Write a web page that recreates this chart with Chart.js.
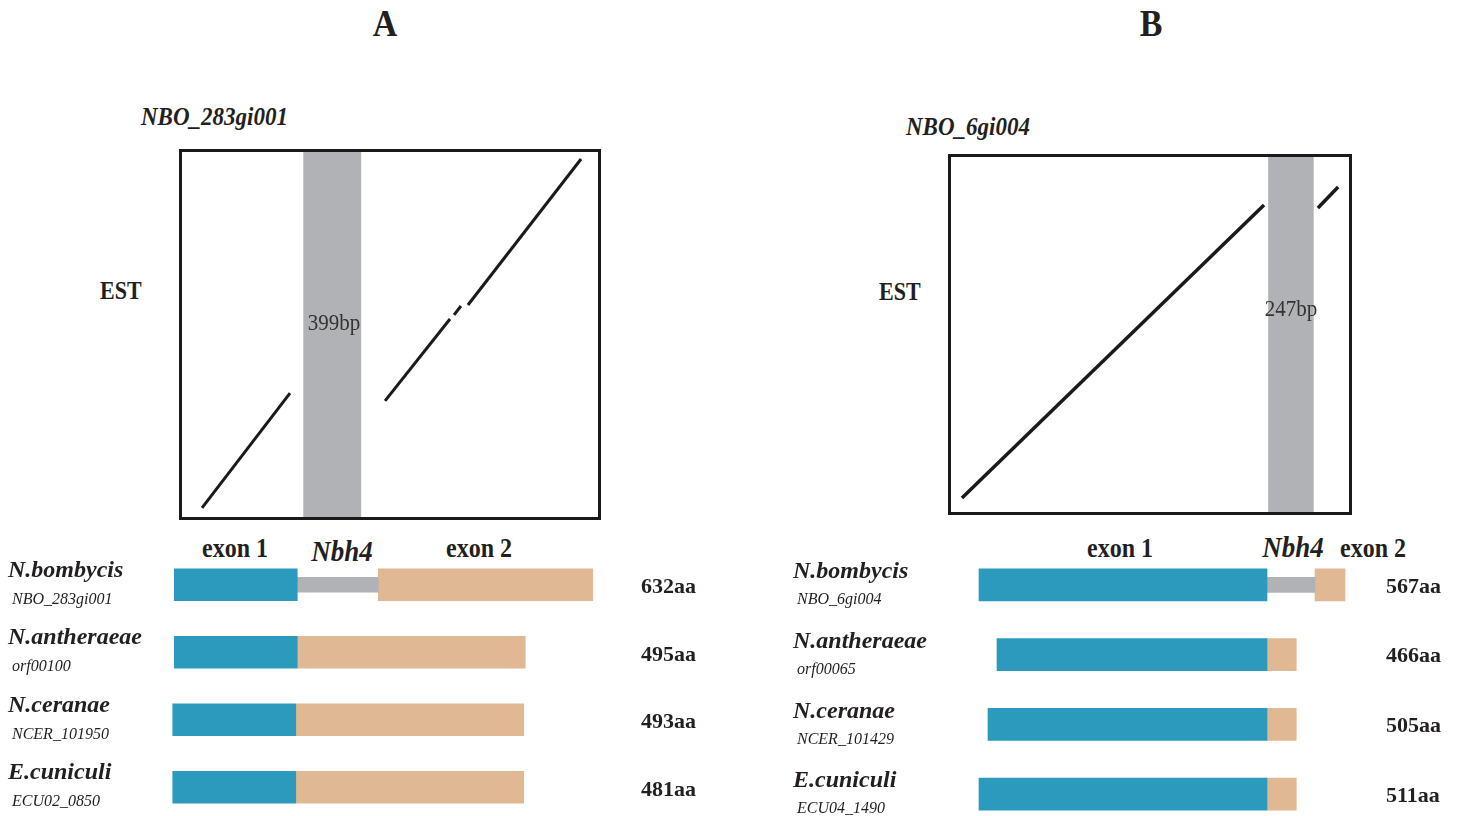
<!DOCTYPE html>
<html>
<head>
<meta charset="utf-8">
<script src="https://cdn.jsdelivr.net/npm/chart.js"></script>
<style>
  html, body { margin: 0; padding: 0; background: #fff; overflow: hidden; }
  body { width: 1460px; height: 816px; position: relative; font-family: "Liberation Serif", serif; color: #231f20; }
  .box { position: absolute; border: 3px solid #1a1a1a; box-sizing: border-box; }
  .wrap { position: absolute; }
  .t { position: absolute; white-space: nowrap; line-height: 1; }
  .c { transform: translate(-50%, -50%) scaleY(1.1); }
  .l { transform: translateY(-50%) scaleY(1.1); }
  .big { font-weight: bold; font-size: 34px; }
  .gene { font-weight: bold; font-style: italic; font-size: 23px; }
  .est { font-weight: bold; font-size: 22px; }
  .bp { font-size: 21px; color: #333; }
  .exon { font-weight: bold; font-size: 24px; }
  .nbh { font-weight: bold; font-style: italic; font-size: 27px; }
</style>
</head>
<body>
<div class="t c big" style="left:385px;top:24px">A</div>
<div class="t c big" style="left:1151px;top:24px">B</div>
<div class="t l gene" style="left:141px;top:117px">NBO_283gi001</div>
<div class="t l gene" style="left:906px;top:127px">NBO_6gi004</div>
<div class="t l est" style="left:100px;top:291px">EST</div>
<div class="t l est" style="left:879px;top:292px">EST</div>

<div class="box" style="left:179px;top:149px;width:422px;height:371px"><canvas id="dotA"></canvas></div>
<div class="box" style="left:948px;top:154px;width:404px;height:361px"><canvas id="dotB"></canvas></div>

<div class="t c bp" style="left:334px;top:323px">399bp</div>
<div class="t c bp" style="left:1291px;top:309px">247bp</div>

<div class="t c exon" style="left:235px;top:548px">exon 1</div>
<div class="t c nbh" style="left:342px;top:552px">Nbh4</div>
<div class="t c exon" style="left:479px;top:548px">exon 2</div>
<div class="t c exon" style="left:1120px;top:548px">exon 1</div>
<div class="t c nbh" style="left:1293px;top:548px">Nbh4</div>
<div class="t c exon" style="left:1373px;top:548px">exon 2</div>

<div class="wrap" style="left:0px;top:545px;width:720px;height:276px"><canvas id="geneA"></canvas></div>
<div class="wrap" style="left:740px;top:544px;width:720px;height:285px"><canvas id="geneB"></canvas></div>

<script>
"use strict";
// dot plots: genomic position (bp) vs EST position
var genomeLenA = 2850, estLenA = 2500;
var intronA = [830, 1229]; // 399bp
// [genome start, est start, genome end, est end]
var segmentsA = [
    [137, 62, 740, 849],
    [1391, 795, 1836, 1356],
    [1864, 1384, 1911, 1445],
    [1959, 1452, 2734, 2452]
];
var genomeLenB = 2150, estLenB = 2000;
var intronB = [1713, 1960]; // 247bp
var segmentsB = [
    [59, 79, 1691, 1730],
    [1982, 1713, 2091, 1831]
];

// gene structures (schematic aa positions)
var speciesA = ["N.bombycis", "N.antheraeae", "N.ceranae", "E.cuniculi"];
var idsA = ["NBO_283gi001", "orf00100", "NCER_101950", "ECU02_0850"];
var lengthsA = ["632aa", "495aa", "493aa", "481aa"];
var exon1A = [[19, 183], [19, 183], [17, 181], [17, 181]];
var nbh4A = [[183, 291], null, null, null];
var exon2A = [[291, 577], [183, 487], [181, 485], [181, 485]];

var speciesB = ["N.bombycis", "N.antheraeae", "N.ceranae", "E.cuniculi"];
var idsB = ["NBO_6gi004", "orf00065", "NCER_101429", "ECU04_1490"];
var lengthsB = ["567aa", "466aa", "505aa", "511aa"];
var exon1B = [[52, 436], [76, 436], [64, 436], [52, 436]];
var nbh4B = [[436, 500], null, null, null];
var exon2B = [[500, 540], [436, 475], [436, 475], [436, 475]];

var blue = "#2c9abd", tan = "#e0b893", grey = "#b1b2b6", ink = "#1a1a1a";

function dotPlot(id, segs, intron, gLen, eLen, lw) {
    var ds = [];
    for (var i = 0; i < segs.length; i++) {
        ds.push({
            data: [{x: segs[i][0], y: segs[i][1]}, {x: segs[i][2], y: segs[i][3]}],
            showLine: true, borderColor: ink, borderWidth: lw, pointRadius: 0
        });
    }
    // intron band, drawn last so it sits below the lines
    ds.push({
        data: [{x: intron[0], y: eLen}, {x: intron[1], y: eLen}],
        showLine: true, fill: "start", backgroundColor: grey, borderWidth: 0, pointRadius: 0
    });
    new Chart(document.getElementById(id), {
        type: "scatter",
        data: {datasets: ds},
        options: {
            responsive: true, maintainAspectRatio: false, animation: false,
            layout: {padding: 0},
            plugins: {legend: {display: false}, tooltip: {enabled: false}},
            scales: {
                x: {type: "linear", min: 0, max: gLen, display: false},
                y: {type: "linear", min: 0, max: eLen, display: false}
            }
        }
    });
}

function rowLabels(names, ids, lengths, nameX, idX, aaX, nameDy, idDy, aaDy) {
    return {
        id: "rowLabels",
        afterDatasetsDraw: function (chart) {
            var ctx = chart.ctx, y = chart.scales.y;
            ctx.save();
            ctx.fillStyle = "#231f20";
            ctx.textBaseline = "middle";
            ctx.textAlign = "left";
            for (var i = 0; i < names.length; i++) {
                var cy = y.getPixelForValue(i);
                ctx.font = 'bold italic 24px "Liberation Serif"';
                ctx.fillText(names[i], nameX, cy + nameDy);
                ctx.font = 'italic 16px "Liberation Serif"';
                ctx.fillText(ids[i], idX, cy + idDy);
                ctx.font = 'bold 22px "Liberation Serif"';
                ctx.fillText(lengths[i], aaX, cy + aaDy);
            }
            ctx.restore();
        }
    };
}

function geneChart(id, names, e1, intr, e2, padL, padR, labels) {
    new Chart(document.getElementById(id), {
        type: "bar",
        data: {
            labels: names,
            datasets: [
                {label: "exon 1", data: e1, backgroundColor: blue, barThickness: 32, grouped: false},
                {label: "Nbh4", data: intr, backgroundColor: grey, barThickness: 15, grouped: false},
                {label: "exon 2", data: e2, backgroundColor: tan, barThickness: 32, grouped: false}
            ]
        },
        options: {
            indexAxis: "y", responsive: true, maintainAspectRatio: false, animation: false,
            layout: {padding: {left: padL, right: padR, top: 6, bottom: 0}},
            plugins: {legend: {display: false}, tooltip: {enabled: false}},
            scales: {
                x: {type: "linear", min: 0, max: 600, display: false},
                y: {display: false}
            }
        },
        plugins: [labels]
    });
}

dotPlot("dotA", segmentsA, intronA, genomeLenA, estLenA, 3);
dotPlot("dotB", segmentsB, intronB, genomeLenB, estLenB, 3.5);
geneChart("geneA", speciesA, exon1A, nbh4A, exon2A, 160, 110,
    rowLabels(speciesA, idsA, lengthsA, 8, 12, 641, -14, 15, 3));
geneChart("geneB", speciesB, exon1B, nbh4B, exon2B, 200, 70,
    rowLabels(speciesB, idsB, lengthsB, 53, 57, 646, -13, 15, 2));
</script>
</body>
</html>
